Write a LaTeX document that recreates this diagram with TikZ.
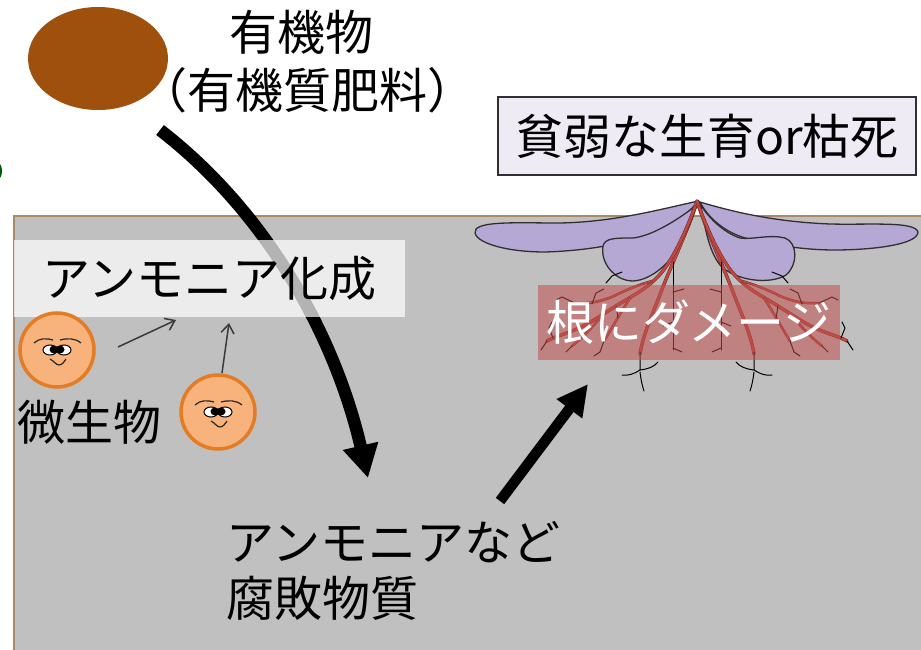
\documentclass[tikz,border=0pt]{standalone}
\usepackage{fontspec}
\setmainfont{Noto Sans CJK JP}
\usetikzlibrary{arrows.meta,shapes.geometric}

\definecolor{soil}{HTML}{C0C0C0}
\definecolor{soilline}{HTML}{A8896A}
\definecolor{blob}{HTML}{9E500C}
\definecolor{microfill}{HTML}{F8B27C}
\definecolor{microline}{HTML}{E27D26}
\definecolor{leaf}{HTML}{B6A8D5}
\definecolor{leafline}{HTML}{303030}
\definecolor{root}{HTML}{BC4A42}
\definecolor{rootdark}{HTML}{7A2420}
\definecolor{damage}{HTML}{C0504D}
\definecolor{topbox}{HTML}{EEEBF5}
\definecolor{thinarrow}{HTML}{3A3A3A}

% one half of the root system; the other half is its mirror image
\newcommand\rootHalf{%
  \draw[rootline] (697,201) .. controls (686,235) and (670,268) .. (661,292)
                  .. controls (651,318) and (643,335) .. (640,354);
  \draw[rootline] (695,207) .. controls (684,236) and (673,258) .. (662,272)
                  .. controls (648,289) and (630,297) .. (616,306)
                  .. controls (600,316) and (586,326) .. (572,331)
                  .. controls (562,335) and (554,337) .. (547,341);
  \draw[rootthin] (652,281) .. controls (638,285) and (626,290) .. (614,296)
                  .. controls (600,302) and (588,304) .. (575,303);
  \draw[rootthin] (630,298) .. controls (621,312) and (612,328) .. (604,341);
  \draw[rootthin] (600,318) .. controls (590,330) and (582,338) .. (572,346);
  % fine black rootlets
  \draw[fine] (640,352) -- (640,370) .. controls (634,374) and (628,376) .. (622,375);
  \draw[fine] (640,370) .. controls (648,369) and (654,367) .. (658,362);
  \draw[fine] (640,372) .. controls (641,380) and (642,385) .. (644,391);
  \draw[fine] (673,262) -- (673,350);
  \draw[fine] (673,292) -- (684,289);
  \draw[fine] (673,322) -- (663,326);
  \draw[fine] (673,348) -- (682,352);
  \draw[fine] (547,341) -- (541,350);
  \draw[fine] (553,338) -- (549,328) -- (552,322);
  \draw[fine] (575,303) -- (562,297) -- (556,300);
  \draw[fine] (592,304) -- (596,293) -- (604,289);
  \draw[fine] (604,341) -- (600,352) -- (594,356);
  \draw[fine] (572,346) -- (566,352);
  \draw[fine] (616,306) -- (618,318);
  \draw[fine] (622,272) -- (612,276) -- (606,283);
}

\begin{document}
\begin{tikzpicture}[x=1pt,y=-1pt,
  jp/.style={font=\fontsize{48}{56}\selectfont, inner sep=0pt},
  rootline/.style={draw=root, line width=2.4pt, line cap=round,
                   preaction={draw=rootdark, line width=3.4pt, line cap=round}},
  rootthin/.style={draw=root, line width=1.6pt, line cap=round,
                   preaction={draw=rootdark, line width=2.5pt, line cap=round}},
  fine/.style={draw=black, line width=1pt, line cap=round},
  leafshape/.style={fill=leaf, draw=leafline, line width=1.3pt},
  bigarrow/.style={line width=12.5pt, -{Triangle[length=33pt,width=34pt]}},
  smallarrow/.style={draw=thinarrow, line width=1.5pt, -{Straight Barb[length=9pt,width=13pt]}},
  microbe/.pic={
    \fill[microfill] (0,0) circle (37);
    \draw[microline, line width=3.5pt] (0,0) circle (37);
    \draw[black!85, line width=1.2pt] (-23,-7) .. controls (-18,-12) and (-10,-12) .. (-4,-10);
    \draw[black!85, line width=1.2pt] (3,-10) .. controls (10,-12) and (18,-12) .. (24,-7);
    \filldraw[fill=white, draw=black, line width=1pt] (-7,0) ellipse (7 and 5);
    \filldraw[fill=white, draw=black, line width=1pt] (7,0) ellipse (7 and 5);
    \fill[black] (-3,-0.5) ellipse (4.5 and 4);
    \fill[black] (3,-0.5) ellipse (4.5 and 4);
    \draw[black!85, line width=1.2pt] (-7,9) .. controls (-3,11) and (-1,15) .. (2,15)
          .. controls (5,15) and (7,12) .. (9,9);
  }]

\useasboundingbox (0,0) rectangle (921,650);

% soil
\fill[soil] (14,216) rectangle (925,655);
\draw[soilline, line width=1.5pt] (14,655) -- (14,216) -- (925,216);

% small green piece at the left edge
\fill[green!35!black] (-2,171) ellipse (4 and 8);

% organic matter
\node[ellipse, fill=blob, minimum width=140pt, minimum height=103pt, inner sep=0pt]
  (organic) at (98,58.5) {};
\node[jp, anchor=base west] (orgtitle) at (229,51) {有機物};
\node[jp, anchor=base west] (orgsub) at (139,109) {（有機質肥料）};

% decomposition arrow into the soil
\coordinate (decStart) at (160,130);
\coordinate (decEnd) at (368,478);
\draw[bigarrow] (decStart) .. controls (270,215) and (336,340) .. (decEnd);

% ammonification label (translucent band)
\node[fill=white, fill opacity=0.7, text opacity=1, minimum width=391pt,
      minimum height=77pt, inner sep=0pt, font=\fontsize{48}{56}\selectfont]
  (ammonif) at (209.5,278.5) {アンモニア化成};

% microbes
\pic (mA) at (57,350) {microbe};
\pic (mB) at (218,412) {microbe};
\coordinate (mAout) at (118,347);
\coordinate (ammA) at (176,320);
\coordinate (mBout) at (222,373);
\coordinate (ammB) at (229,323);
\draw[smallarrow] (mAout) -- (ammA);
\draw[smallarrow] (mBout) -- (ammB);
\node[jp, anchor=base west] (microbes) at (17,440) {微生物};

% plant: leaves
\draw[leafshape] (698,201) .. controls (650,212) and (610,222) .. (560,223)
   .. controls (520,223) and (484,221) .. (476,229)
   .. controls (469,240) and (500,252) .. (545,252)
   .. controls (580,251) and (612,246) .. (640,238)
   .. controls (668,229) and (690,213) .. (698,201) -- cycle;
\draw[leafshape] (700,202) .. controls (740,214) and (780,222) .. (830,224)
   .. controls (870,225) and (915,221) .. (918,232)
   .. controls (918,245) and (870,250) .. (835,250)
   .. controls (800,250) and (770,244) .. (745,238)
   .. controls (725,232) and (708,218) .. (700,202) -- cycle;
\draw[leafshape] (697,205) .. controls (672,224) and (650,236) .. (633,238)
   .. controls (615,238) and (605,238) .. (603,246)
   .. controls (600,263) and (615,281) .. (633,281)
   .. controls (652,280) and (672,262) .. (683,240)
   .. controls (690,226) and (694,214) .. (697,205) -- cycle;
\draw[leafshape] (700,204) .. controls (705,225) and (708,250) .. (720,265)
   .. controls (735,281) and (770,285) .. (786,275)
   .. controls (798,265) and (798,243) .. (785,238)
   .. controls (770,234) and (752,240) .. (740,238)
   .. controls (725,233) and (710,220) .. (700,204) -- cycle;

% plant: roots
\rootHalf
\begin{scope}[xshift=1394pt, xscale=-1]
  \rootHalf
\end{scope}

% root damage label
\node[fill=damage, fill opacity=0.55, text opacity=1, text=white,
      minimum width=302pt, minimum height=75pt, inner sep=0pt,
      font=\fontsize{48}{56}\selectfont]
  (damage) at (689,322.5) {根にダメージ};

% outcome label
\node[fill=topbox, draw=leafline, line width=1.3pt, minimum width=418pt,
      minimum height=78pt, inner sep=0pt, font=\fontsize{48}{56}\selectfont]
  (outcome) at (707,136) {貧弱な生育or枯死};

% harmful products and their effect on the roots
\node[jp, anchor=base west] (products) at (226,560) {アンモニアなど};
\node[jp, anchor=base west] (products2) at (226,616) {腐敗物質};
\coordinate (harmStart) at (500,501);
\coordinate (harmEnd) at (588,384);
\draw[line width=10.5pt, -{Triangle[length=31pt,width=30pt]}] (harmStart) -- (harmEnd);

\end{tikzpicture}
\end{document}
